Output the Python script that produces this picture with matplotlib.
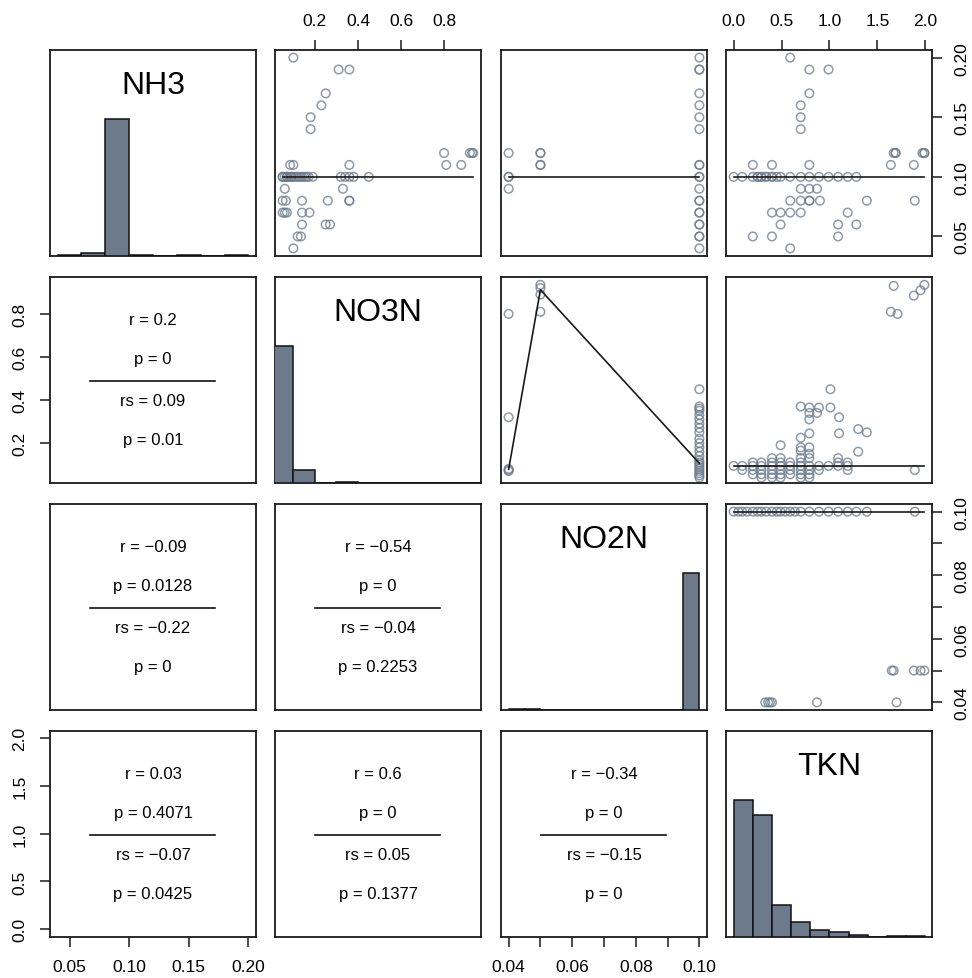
import numpy as np
import matplotlib.pyplot as plt

plt.rcParams['font.family'] = ['Liberation Sans', 'DejaVu Sans']

names = ['NH3', 'NO3N', 'NO2N', 'TKN']
# data min / max of each variable (axes get R's 4% padding)
data_range = {'NH3': (0.04, 0.20), 'NO3N': (0.05, 0.936),
              'NO2N': (0.04, 0.10), 'TKN': (0.0, 1.99)}
tick_vals = {'NH3': [0.05, 0.10, 0.15, 0.20],
             'NO3N': [0.2, 0.4, 0.6, 0.8],
             'NO2N': [0.04, 0.05, 0.06, 0.07, 0.08, 0.09, 0.10],
             'TKN': [0.0, 0.5, 1.0, 1.5, 2.0]}
tick_labs = {'NH3': ['0.05', '0.10', '0.15', '0.20'],
             'NO3N': ['0.2', '0.4', '0.6', '0.8'],
             'NO2N': ['0.04', '', '0.06', '', '0.08', '', '0.10'],
             'TKN': ['0.0', '0.5', '1.0', '1.5', '2.0']}

# histograms on the diagonal (bin edges and counts)
hist_edges = {'NH3': [0.04, 0.06, 0.08, 0.10, 0.12, 0.14, 0.16, 0.18, 0.20],
              'NO3N': [0.0, 0.1, 0.2, 0.3, 0.4, 0.5, 0.6, 0.7, 0.8, 0.9, 1.0],
              'NO2N': [0.04, 0.045, 0.05, 0.055, 0.06, 0.065, 0.07, 0.075,
                       0.08, 0.085, 0.09, 0.095, 0.10],
              'TKN': [0.0, 0.2, 0.4, 0.6, 0.8, 1.0, 1.2, 1.4, 1.6, 1.8, 2.0]}
hist_counts = {'NH3': [3, 8, 420, 3, 0, 3, 0, 3],
               'NO3N': [420, 40, 0, 3, 0, 0, 0, 0, 0, 0],
               'NO2N': [3, 3, 0, 0, 0, 0, 0, 0, 0, 0, 0, 420],
               'TKN': [270, 239, 62, 30, 14, 10, 4, 0, 2, 2]}

# upper panels: (x, y) points
nh3_no3n = [(0.10, 0.20), (0.31, 0.19), (0.36, 0.19), (0.25, 0.17), (0.23, 0.16),
            (0.18, 0.15), (0.18, 0.14), (0.80, 0.12), (0.92, 0.12), (0.93, 0.12),
            (0.935, 0.12), (0.085, 0.11), (0.10, 0.11), (0.36, 0.11), (0.81, 0.11),
            (0.88, 0.11), (0.05, 0.10), (0.06, 0.10), (0.07, 0.10), (0.08, 0.10),
            (0.09, 0.10), (0.10, 0.10), (0.11, 0.10), (0.12, 0.10), (0.13, 0.10),
            (0.14, 0.10), (0.15, 0.10), (0.16, 0.10), (0.17, 0.10), (0.19, 0.10),
            (0.05, 0.10), (0.07, 0.10), (0.09, 0.10), (0.32, 0.10), (0.34, 0.10),
            (0.36, 0.10), (0.38, 0.10), (0.45, 0.10), (0.06, 0.09), (0.33, 0.09),
            (0.05, 0.08), (0.065, 0.08), (0.14, 0.08), (0.26, 0.08), (0.36, 0.08),
            (0.36, 0.08), (0.05, 0.07), (0.06, 0.07), (0.07, 0.07), (0.14, 0.07),
            (0.175, 0.07), (0.14, 0.06), (0.25, 0.06), (0.27, 0.06), (0.12, 0.05),
            (0.135, 0.05), (0.10, 0.04)]
nh3_no2n = [(0.04, 0.12), (0.04, 0.10), (0.04, 0.10), (0.04, 0.09),
            (0.05, 0.12), (0.05, 0.12), (0.05, 0.11), (0.05, 0.11),
            (0.10, 0.20), (0.10, 0.19), (0.10, 0.19), (0.10, 0.17), (0.10, 0.16),
            (0.10, 0.15), (0.10, 0.14), (0.10, 0.11), (0.10, 0.11), (0.10, 0.10),
            (0.10, 0.10), (0.10, 0.09), (0.10, 0.08), (0.10, 0.08), (0.10, 0.07),
            (0.10, 0.07), (0.10, 0.06), (0.10, 0.06), (0.10, 0.05), (0.10, 0.05),
            (0.10, 0.04)]
nh3_tkn = [(0.59, 0.20), (0.79, 0.19), (0.99, 0.19), (0.79, 0.17), (0.70, 0.16),
           (0.70, 0.15), (0.70, 0.14), (1.67, 0.12), (1.69, 0.12), (1.69, 0.12),
           (1.97, 0.12), (1.99, 0.12), (1.99, 0.12), (0.20, 0.11), (0.40, 0.11),
           (0.79, 0.11), (1.64, 0.11), (1.88, 0.11), (0.0, 0.10), (0.09, 0.10),
           (0.20, 0.10), (0.25, 0.10), (0.29, 0.10), (0.34, 0.10), (0.40, 0.10),
           (0.45, 0.10), (0.49, 0.10), (0.59, 0.10), (0.70, 0.10), (0.79, 0.10),
           (0.89, 0.10), (0.99, 0.10), (1.09, 0.10), (1.19, 0.10), (1.28, 0.10),
           (0.25, 0.10), (0.29, 0.10), (0.34, 0.10), (0.40, 0.10), (0.70, 0.09),
           (0.79, 0.09), (0.87, 0.09), (0.59, 0.08), (0.70, 0.08), (0.79, 0.08),
           (0.79, 0.08), (0.90, 0.08), (1.39, 0.08), (1.89, 0.08), (0.40, 0.07),
           (0.49, 0.07), (0.59, 0.07), (0.70, 0.07), (1.19, 0.07), (0.49, 0.06),
           (1.09, 0.06), (1.28, 0.06), (0.20, 0.05), (0.40, 0.05), (1.09, 0.05),
           (0.59, 0.04)]
no3n_no2n = [(0.04, 0.80), (0.04, 0.32), (0.04, 0.07), (0.04, 0.075), (0.04, 0.08),
             (0.05, 0.935), (0.05, 0.92), (0.05, 0.89), (0.05, 0.81),
             (0.10, 0.45), (0.10, 0.37), (0.10, 0.36), (0.10, 0.35), (0.10, 0.33),
             (0.10, 0.31), (0.10, 0.29), (0.10, 0.27), (0.10, 0.25), (0.10, 0.22),
             (0.10, 0.20), (0.10, 0.18), (0.10, 0.16), (0.10, 0.14), (0.10, 0.12),
             (0.10, 0.11), (0.10, 0.10), (0.10, 0.09), (0.10, 0.08), (0.10, 0.07),
             (0.10, 0.06), (0.10, 0.05), (0.10, 0.04)]
no3n_tkn = [(1.67, 0.93), (1.88, 0.885), (1.95, 0.91), (1.99, 0.935), (1.64, 0.81),
            (1.71, 0.80), (1.01, 0.45), (0.70, 0.37), (0.79, 0.365), (0.79, 0.34),
            (0.89, 0.365), (0.87, 0.34), (0.79, 0.31), (1.01, 0.365), (1.10, 0.32),
            (1.30, 0.265), (1.39, 0.25), (1.10, 0.245), (0.79, 0.245), (0.70, 0.225),
            (0.70, 0.18), (0.49, 0.19), (0.79, 0.18), (1.30, 0.16), (0.79, 0.15),
            (0.70, 0.165), (0.0, 0.094), (0.09, 0.094), (0.20, 0.094), (0.29, 0.094),
            (0.40, 0.094), (0.49, 0.094), (0.59, 0.094), (0.70, 0.094), (0.79, 0.094),
            (0.89, 0.094), (0.99, 0.094), (1.09, 0.094), (1.19, 0.094), (0.20, 0.11),
            (0.29, 0.11), (0.40, 0.11), (0.49, 0.11), (0.59, 0.11), (0.70, 0.11),
            (1.09, 0.11), (1.19, 0.11), (0.09, 0.075), (0.20, 0.075), (0.29, 0.075),
            (0.40, 0.075), (0.49, 0.075), (0.59, 0.075), (0.70, 0.075), (0.79, 0.075),
            (0.89, 0.075), (1.19, 0.075), (1.89, 0.075), (0.20, 0.055), (0.29, 0.055),
            (0.40, 0.055), (0.49, 0.055), (0.59, 0.055), (0.70, 0.055), (0.79, 0.055),
            (0.29, 0.04), (0.40, 0.04), (0.49, 0.04), (0.70, 0.04), (0.79, 0.04),
            (0.40, 0.13), (0.49, 0.13), (0.70, 0.13), (0.79, 0.13), (1.09, 0.13)]
no2n_tkn = [(0.0, 0.10), (0.05, 0.10), (0.09, 0.10), (0.14, 0.10), (0.20, 0.10),
            (0.25, 0.10), (0.29, 0.10), (0.34, 0.10), (0.40, 0.10), (0.45, 0.10),
            (0.49, 0.10), (0.54, 0.10), (0.59, 0.10), (0.64, 0.10), (0.70, 0.10),
            (0.79, 0.10), (0.89, 0.10), (0.99, 0.10), (1.09, 0.10), (1.19, 0.10),
            (1.28, 0.10), (1.39, 0.10), (1.89, 0.10), (1.65, 0.05), (1.67, 0.05),
            (1.88, 0.05), (1.95, 0.05), (1.99, 0.05), (0.33, 0.04), (0.36, 0.04),
            (0.38, 0.04), (0.40, 0.04), (0.87, 0.04), (1.70, 0.04)]

# smoothed lines through each upper panel
smooth_lines = {(0, 1): [(0.05, 0.10), (0.936, 0.10)],
                (0, 2): [(0.04, 0.10), (0.10, 0.10)],
                (0, 3): [(0.0, 0.10), (1.99, 0.10)],
                (1, 2): [(0.04, 0.078), (0.05, 0.912), (0.10, 0.106)],
                (1, 3): [(0.0, 0.094), (1.99, 0.094)],
                (2, 3): [(0.0, 0.10), (1.99, 0.10)]}
scatter_pts = {(0, 1): nh3_no3n, (0, 2): nh3_no2n, (0, 3): nh3_tkn,
               (1, 2): no3n_no2n, (1, 3): no3n_tkn, (2, 3): no2n_tkn}

# lower panels: pearson r, p, spearman rs, p
stats = {(1, 0): ('0.2', '0', '0.09', '0.01'),
         (2, 0): ('\u22120.09', '0.0128', '\u22120.22', '0'),
         (2, 1): ('\u22120.54', '0', '\u22120.04', '0.2253'),
         (3, 0): ('0.03', '0.4071', '\u22120.07', '0.0425'),
         (3, 1): ('0.6', '0', '0.05', '0.1377'),
         (3, 2): ('\u22120.34', '0', '\u22120.15', '0')}


def padded(var):
    lo, hi = data_range[var]
    d = (hi - lo) * 0.04
    return lo - d, hi + d


W, H = 972, 979
lefts = [50, 275, 501, 726]
tops = [51, 278, 505, 732]
size = 206
pt_color = (0.42, 0.48, 0.55, 0.75)
bar_color = '#6c7a8c'

fig = plt.figure(figsize=(W / 100, H / 100), dpi=100)

for i in range(4):
    for j in range(4):
        ax = fig.add_axes([lefts[j] / W, 1 - (tops[i] + size) / H, size / W, size / H])
        for s in ax.spines.values():
            s.set_linewidth(1.3)
            s.set_color('#1a1a1a')
        ax.set_xticks([])
        ax.set_yticks([])
        ax.tick_params(length=7.2, width=1.1, labelsize=12.5, pad=9, color='#1a1a1a')
        ax.set_xlim(*padded(names[j]))
        ax.set_ylim(*padded(names[i]))

        if i == j:
            var = names[i]
            edges = np.array(hist_edges[var])
            counts = np.array(hist_counts[var], dtype=float)
            hx = ax.twinx()
            hx.set_axis_off()
            hx.bar(edges[:-1], counts / counts.max(), width=np.diff(edges), align='edge',
                   color=bar_color, edgecolor='#111111', linewidth=1.1)
            hx.set_ylim(0, 1.5)
            hx.set_xlim(*padded(var))
            ax.text(0.5, 0.83, var, transform=ax.transAxes, ha='center', va='center',
                    fontsize=23)
        elif i < j:
            pts = np.array(scatter_pts[(i, j)])
            ax.scatter(pts[:, 0], pts[:, 1], s=38, facecolors='none',
                       edgecolors=[pt_color], linewidths=1.1)
            ln = np.array(smooth_lines[(i, j)])
            ax.plot(ln[:, 0], ln[:, 1], color='#1a1a1a', lw=1.2)
        else:
            r, p1, rs, p2 = stats[(i, j)]
            kw = dict(transform=ax.transAxes, ha='center', va='center', fontsize=12)
            ax.text(0.5, 0.795, 'r = ' + r, **kw)
            ax.text(0.5, 0.605, 'p = ' + p1, **kw)
            ax.plot([0.195, 0.80], [0.497, 0.497], transform=ax.transAxes,
                    color='#111111', lw=1.2)
            ax.text(0.5, 0.40, 'rs = ' + rs, **kw)
            ax.text(0.5, 0.21, 'p = ' + p2, **kw)

        # outer axes, alternating like R's pairs()
        if i == 0 and j % 2 == 1:
            ax.set_xticks(tick_vals[names[j]], tick_labs[names[j]])
            ax.tick_params(axis='x', top=True, bottom=False, labeltop=True, labelbottom=False)
        if i == 3 and j % 2 == 0:
            ax.set_xticks(tick_vals[names[j]], tick_labs[names[j]])
        if j == 0 and i % 2 == 1:
            ax.set_yticks(tick_vals[names[i]], tick_labs[names[i]])
            for lab in ax.get_yticklabels():
                lab.set_rotation(90)
                lab.set_va('center')
        if j == 3 and i % 2 == 0:
            ax.set_yticks(tick_vals[names[i]], tick_labs[names[i]])
            ax.tick_params(axis='y', right=True, left=False, labelright=True, labelleft=False)
            for lab in ax.get_yticklabels():
                lab.set_rotation(90)
                lab.set_va('center')
        ax.set_xlim(*padded(names[j]))
        ax.set_ylim(*padded(names[i]))

fig.savefig('out.png', dpi=100, facecolor='white')
